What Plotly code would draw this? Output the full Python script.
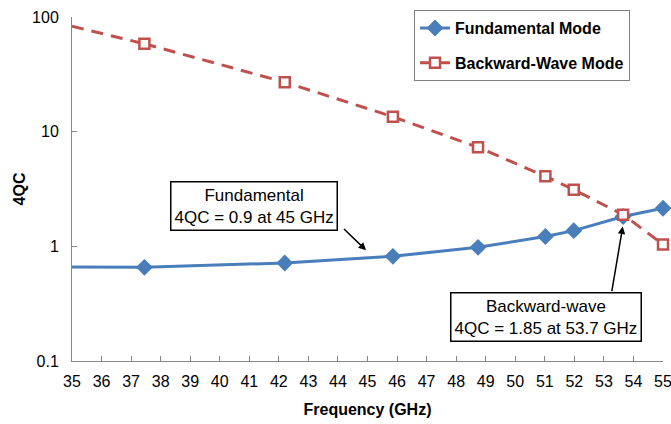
import math
import plotly.graph_objects as go

# Frequency (GHz) of the plotted points
freq = [37.45, 42.2, 45.86, 48.74, 51.02, 51.98, 53.65, 55.0]
# Fundamental mode 4QC values
fund_4qc = [0.656, 0.716, 0.818, 0.98, 1.22, 1.37, 1.82, 2.15]
# Backward-wave mode 4QC values
bw_4qc = [58.4, 27.0, 13.5, 7.31, 4.08, 3.12, 1.89, 1.04]
# Line continuation to the left axis edge (no marker there)
edge_freq = [35.0, 37.45]
fund_edge = [0.66, 0.656]
bw_edge = [83.0, 58.4]

x_ticks = list(range(35, 56))
y_ticks = [0.1, 1, 10, 100]
y_tick_text = ["0.1", "1", "10", "100"]

BLUE = "#4A7EBB"
RED = "#C0504D"
FONT = "Arial, Liberation Sans, sans-serif"

fig = go.Figure()
fig.add_trace(go.Scatter(x=edge_freq, y=fund_edge, mode="lines",
                         line=dict(color=BLUE, width=3), showlegend=False,
                         legendgroup="f", hoverinfo="skip"))
fig.add_trace(go.Scatter(x=freq, y=fund_4qc, mode="lines+markers", name="Fundamental Mode",
                         line=dict(color=BLUE, width=3), legendgroup="f", cliponaxis=False,
                         marker=dict(symbol="diamond", size=13, color=BLUE)))
fig.add_trace(go.Scatter(x=edge_freq, y=bw_edge, mode="lines",
                         line=dict(color=RED, width=3, dash="12px,8px"), showlegend=False,
                         legendgroup="b", hoverinfo="skip"))
fig.add_trace(go.Scatter(x=freq, y=bw_4qc, mode="lines+markers", name="Backward-Wave Mode",
                         line=dict(color=RED, width=3, dash="12px,8px"), legendgroup="b",
                         cliponaxis=False,
                         marker=dict(symbol="square", size=10, color="white",
                                     line=dict(color=RED, width=2.5))))

fig.update_layout(
    width=671, height=424,
    margin=dict(l=72, r=8, t=17, b=63),
    plot_bgcolor="white", paper_bgcolor="white",
    font=dict(family=FONT, size=16, color="black"),
    showlegend=True,
    legend=dict(x=0.5787, y=1.02, xanchor="left", yanchor="top",
                bordercolor="#7F7F7F", borderwidth=1, bgcolor="white",
                font=dict(family=FONT, size=16, weight="bold"),
                traceorder="grouped", tracegroupgap=11),
    xaxis=dict(range=[35, 55], tickvals=x_ticks, ticks="inside", ticklen=5,
               tickcolor="#868686", showline=True, linecolor="#868686", linewidth=1,
               showgrid=False, zeroline=False, tickfont=dict(size=16),
               ticklabelstandoff=6, ticklabeloverflow="allow", automargin=False,
               title=dict(text="Frequency (GHz)", font=dict(size=16, weight="bold"), standoff=14)),
    yaxis=dict(type="log", range=[-1, 2], tickvals=y_ticks, ticktext=y_tick_text,
               ticks="inside", ticklen=5, tickcolor="#868686", showline=True,
               linecolor="#868686", linewidth=1, showgrid=False, zeroline=False,
               tickfont=dict(size=16), ticklabelstandoff=9, automargin=False,
               title=dict(text="4QC", font=dict(size=16, weight="bold"), standoff=2)),
)

fig.add_annotation(x=41.15, y=0.351, xref="x", yref="y",
                   text="Fundamental<br>4QC = 0.9 at 45 GHz", showarrow=False,
                   font=dict(family=FONT, size=17), bgcolor="white",
                   bordercolor="black", borderwidth=1.5, borderpad=3)
fig.add_annotation(x=51.05, y=-0.618, xref="x", yref="y",
                   text="Backward-wave<br>4QC = 1.85 at 53.7 GHz", showarrow=False,
                   font=dict(family=FONT, size=17), bgcolor="white",
                   bordercolor="black", borderwidth=1.5, borderpad=3)
fig.add_annotation(x=45, y=math.log10(0.9), xref="x", yref="y", text="",
                   showarrow=True, arrowhead=2, arrowsize=1, arrowwidth=1.5,
                   arrowcolor="black", ax=-25, ay=-24, standoff=2)
fig.add_annotation(x=53.7, y=math.log10(1.85), xref="x", yref="y", text="",
                   showarrow=True, arrowhead=2, arrowsize=1, arrowwidth=1.5,
                   arrowcolor="black", ax=-13, ay=77, standoff=11)

fig.write_html("out.html")
